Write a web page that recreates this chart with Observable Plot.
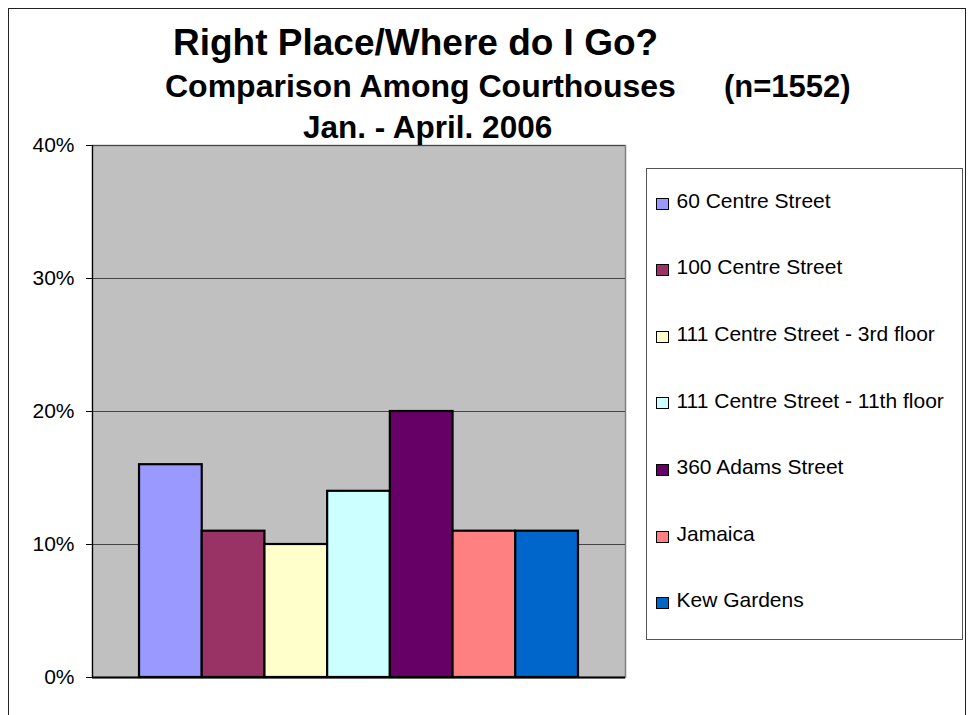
<!DOCTYPE html>
<html>
<head>
<meta charset="utf-8">
<script src="https://cdn.jsdelivr.net/npm/d3@7"></script>
<script src="https://cdn.jsdelivr.net/npm/@observablehq/plot@0.6"></script>
<style>
  html, body { margin: 0; padding: 0; background: #fff; }
  #wrap { position: relative; width: 971px; height: 715px; overflow: hidden; background: #fff; font-family: "Liberation Sans", Arial, sans-serif; color: #000; }
  #border { position: absolute; left: 8px; top: 8px; width: 958px; height: 730px; border: 1.5px solid #222; box-sizing: border-box; }
  .t { position: absolute; white-space: pre; font-weight: bold; line-height: 1; }
  #chart { position: absolute; left: 0; top: 0; }
  #legend { position: absolute; left: 646px; top: 168px; width: 317px; height: 472px; border: 1.5px solid #555; box-sizing: border-box; background: #fff; }
  .sw { position: absolute; width: 13px; height: 12px; border: 1.5px solid #000; box-sizing: border-box; }
  .lt { position: absolute; font-size: 21px; line-height: 1; white-space: pre; }
</style>
</head>
<body>
<div id="wrap">
  <div id="border"></div>
  <div id="chart"></div>
  <div class="t" id="t1" style="left:173px; top:23.5px; font-size:37px;"></div>
  <div class="t" id="t2a" style="left:165px; top:70px; font-size:32px;"></div>
  <div class="t" id="t2b" style="left:724px; top:71px; font-size:31px;"></div>
  <div class="t" id="t3" style="left:303px; top:111.5px; font-size:31.5px;"></div>
  <div id="legend"></div>
</div>
<script>
// ---- data ----
const categories = ["60 Centre Street", "100 Centre Street", "111 Centre Street - 3rd floor", "111 Centre Street - 11th floor", "360 Adams Street", "Jamaica", "Kew Gardens"];
const values = [0.16, 0.11, 0.10, 0.14, 0.20, 0.11, 0.11];
const colors = ["#9999FF", "#993366", "#FFFFCC", "#CCFFFF", "#660066", "#FF8080", "#0066CC"];
const yTicks = [0, 0.1, 0.2, 0.3, 0.4];
const title = "Right Place/Where do I Go?";
const subtitle = "Comparison Among Courthouses";
const subtitleN = "(n=1552)";
const dateRange = "Jan. - April. 2006";

const data = categories.map((name, i) => ({name, value: values[i]}));

document.getElementById("t1").textContent = title;
document.getElementById("t2a").textContent = subtitle;
document.getElementById("t2b").textContent = subtitleN;
document.getElementById("t3").textContent = dateRange;

const chart = Plot.plot({
  width: 971,
  height: 715,
  marginLeft: 92,
  marginRight: 346,
  marginTop: 145,
  marginBottom: 38,
  style: {fontFamily: "'Liberation Sans', Arial, sans-serif", fontSize: "21px", color: "#000", background: "transparent", overflow: "visible"},
  x: {type: "band", domain: categories, paddingInner: 0, paddingOuter: 0.75, round: false, axis: null},
  y: {domain: [0, 0.4], ticks: yTicks, tickFormat: d3.format(".0%"), tickSize: 6, tickPadding: 12, label: null},
  color: {domain: categories, range: colors},
  marks: [
    Plot.frame({fill: "#C0C0C0", stroke: "#808080", strokeWidth: 1.5}),
    Plot.ruleY(yTicks.slice(1), {stroke: "#444", strokeWidth: 1.2}),
    Plot.barY(data, {x: "name", y: "value", fill: "name", stroke: "#000", strokeWidth: 2.2, inset: 0}),
    Plot.ruleY([0], {stroke: "#000", strokeWidth: 2}),
    Plot.frame({anchor: "left", stroke: "#000", strokeWidth: 1.2})
  ]
});
document.getElementById("chart").appendChild(chart);

// ---- legend ----
const legend = document.getElementById("legend");
const lx = 646, ly = 168;
categories.forEach((name, i) => {
  const baseline = 208 + i * 66.6;
  const sw = document.createElement("div");
  sw.className = "sw";
  sw.style.left = (656 - lx - 1.5) + "px";
  sw.style.top = (baseline - 10 - ly - 1.5) + "px";
  sw.style.background = colors[i];
  legend.appendChild(sw);
  const t = document.createElement("div");
  t.className = "lt";
  t.style.left = (677 - lx - 1.5) + "px";
  t.style.top = (baseline - 0.8465 * 21 - ly - 1.5) + "px";
  t.textContent = name;
  legend.appendChild(t);
});
</script>
</body>
</html>
